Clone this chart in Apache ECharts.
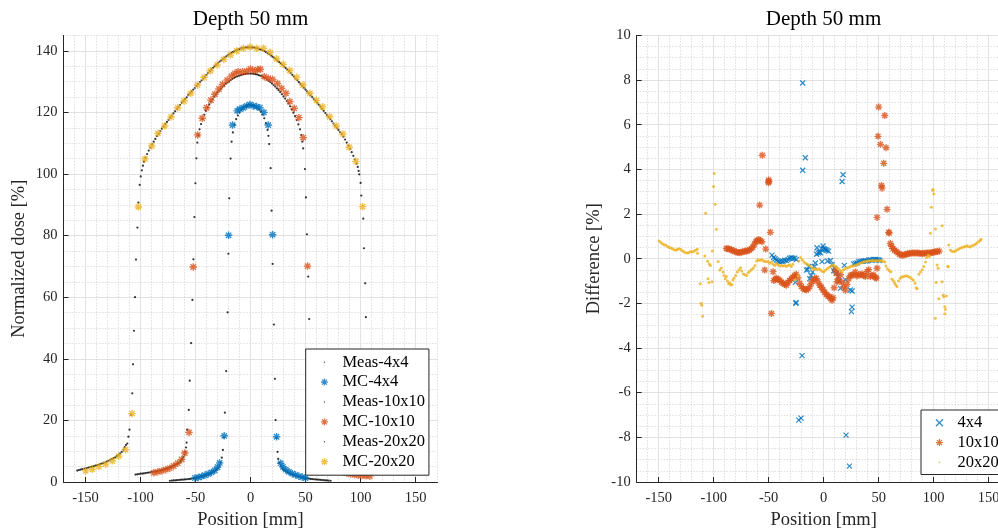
<!DOCTYPE html>
<html><head><meta charset="utf-8">
<script src="https://cdn.jsdelivr.net/npm/echarts@6/dist/echarts.min.js"></script>
<style>html,body{margin:0;padding:0;background:#fff}#c{width:998px;height:532px}</style>
</head><body><div id="c"></div>
<script>
// ---------- tick labels ----------
const xTicks = [-150, -100, -50, 0, 50, 100, 150];
const yTicksDose = [0, 20, 40, 60, 80, 100, 120, 140];
const yTicksDiff = [-10, -8, -6, -4, -2, 0, 2, 4, 6, 8, 10];
const titleText = 'Depth 50 mm';
const namesLeft = ['Meas-4x4', 'MC-4x4', 'Meas-10x10', 'MC-10x10', 'Meas-20x20', 'MC-20x20'];
const namesRight = ['4x4', '10x10', '20x20'];

// ---------- left panel: dose profiles [position mm, dose %] ----------
const meas4 = [[-73.3,0.4],[-71.5,0.45],[-70,0.5],[-68.5,0.55],[-67,0.6],[-65.5,0.65],[-64,0.7],[-62.5,0.75],[-61,0.8],[-59.5,0.85],[-58,0.9],[-56.5,0.95],[-55,1.0],[-53.5,1.1],[-52,1.2],[-50.5,1.3],[-49,1.4],[-47.5,1.5],[-46,1.6],[-44.5,1.8],[-43,1.9],[-41.5,2.1],[-40,2.3],[-38.5,2.5],[-37,2.7],[-35.5,3.0],[-34,3.3],[-32.5,3.6],[-31,4.0],[-29.5,4.5],[-28.2,5.2],[-27.1,6.3],[-26.1,7.9],[-25.1,10.4],[-24.2,14.5],[-23.3,22.5],[-22.1,36.0],[-20.8,55.1],[-20.1,74.1],[-19.3,92.1],[-18.1,105],[-17.2,110.5],[-16,113.5],[-14.5,116],[-13,117.8],[-11.5,119],[-10,120],[-8.5,120.8],[-7,121.4],[-5.5,121.8],[-4,122.1],[-2.5,122.3],[-1,122.4],[0.5,122.4],[2,122.3],[3.5,122.1],[5,121.8],[6.5,121.4],[8,120.9],[9.5,120.2],[11,119.3],[12.5,118.1],[14,116.5],[15.5,114.3],[16.3,112.4],[17,109.7],[18.3,101.9],[19.2,88.1],[20.1,70.8],[21.3,51.1],[22.2,33.5],[22.8,20.1],[23.7,14.3],[24.6,9.8],[25.2,7.5],[26.2,6.2],[27.5,5.1],[29,4.4],[30.5,3.9],[32,3.5],[33.5,3.2],[35,2.9],[36.5,2.6],[38,2.4],[39.5,2.2],[41,2.0],[42.5,1.8],[44,1.7],[45.5,1.6],[47,1.5],[48.5,1.4],[50,1.3],[51.5,1.2],[53,1.1],[54.5,1.0],[56,0.95],[57.5,0.9],[59,0.85],[60.5,0.8],[62,0.75],[63.5,0.7],[65,0.65],[66.5,0.6],[68,0.55],[69.5,0.5],[71,0.45],[72.8,0.4]];
const mc4 = [[-50.5,1.3],[-47.5,1.5],[-44.5,1.8],[-41.5,2.2],[-38.5,2.6],[-35.5,3.1],[-32.5,3.8],[-30,4.8],[-28,6.2],[-23.9,15.0],[-19.9,80.1],[-16.3,115.9],[-12.1,120.5],[-9.6,121.1],[-6.6,121.5],[-3.5,122.1],[-0.5,122.6],[2.5,122.1],[5.5,121.9],[8.5,121.5],[12.2,120.0],[16.1,115.9],[20.1,80.3],[23.7,14.7],[27.4,6.1],[29.5,4.9],[32,4.0],[35,3.3],[38,2.7],[41,2.3],[44,1.9],[47,1.6],[50,1.3]];
const meas10 = [[-104.5,2.4],[-103,2.5],[-101.5,2.6],[-100,2.7],[-98.5,2.75],[-97,2.8],[-95.5,2.9],[-94,3.0],[-92.5,3.05],[-91,3.15],[-89.5,3.25],[-88,3.35],[-86.5,3.45],[-85,3.55],[-83.5,3.7],[-82,3.8],[-80.5,3.95],[-79,4.1],[-77.5,4.25],[-76,4.4],[-74.5,4.6],[-73,4.8],[-71.5,5.0],[-70,5.25],[-68.5,5.5],[-67,5.8],[-65.5,6.15],[-64,6.6],[-63,7.0],[-62,7.5],[-61,8.1],[-60,8.9],[-59.2,9.8],[-58.6,11.2],[-58.1,12.8],[-57.6,17.0],[-56.1,23.4],[-55.2,32.9],[-54,45.1],[-52.8,59.1],[-51.9,72.3],[-51,86],[-50.1,97],[-49.2,105.1],[-48.3,110.2],[-47.3,112.6],[-46.3,114.5],[-45,116.2],[-43.5,117.8],[-42,119.2],[-40.5,120.5],[-39,121.6],[-37.5,122.6],[-36,123.5],[-34.5,124.3],[-33,125.1],[-31.5,125.8],[-30,126.5],[-28.5,127.1],[-27,127.7],[-25.5,128.3],[-24,128.8],[-22.5,129.3],[-21,129.7],[-19.5,130.1],[-18,130.5],[-16.5,130.9],[-15,131.2],[-13.5,131.5],[-12,131.7],[-10.5,131.9],[-9,132.1],[-7.5,132.3],[-6,132.4],[-4.5,132.5],[-3,132.6],[-1.5,132.6],[0,132.6],[1.5,132.6],[3,132.5],[4.5,132.4],[6,132.3],[7.5,132.1],[9,131.9],[10.5,131.7],[12,131.4],[13.5,131.1],[15,130.7],[16.5,130.3],[18,129.9],[19.5,129.4],[21,128.9],[22.5,128.4],[24,127.8],[25.5,127.2],[27,126.6],[28.5,125.9],[30,125.2],[31.5,124.5],[33,123.7],[34.5,122.9],[36,122.0],[37.5,121.0],[39,119.9],[40.5,118.8],[42,117.5],[43.5,116.1],[45,114.5],[46.2,112.6],[47.1,110.5],[47.9,108.3],[49.5,101.6],[50.4,92.4],[51.3,80.4],[52.5,66.7],[53.4,52.9],[54.3,40],[55.2,29],[56.1,21],[57.2,15],[58.3,11.5],[59.5,9.3],[61,7.8],[63,6.7],[66,5.7],[70,4.9],[75,4.2],[80,3.7],[85,3.3],[90,3.0],[95,2.8],[100,2.7],[105,2.7]];
const mc10 = [[-87.8,3.0],[-84.2,3.3],[-80.6,3.6],[-77,4.0],[-73.4,4.5],[-69.8,5.2],[-66.2,6.1],[-62.6,7.3],[-59.7,9.4],[-55.9,16.1],[-52.1,69.8],[-48,112.7],[-43.9,118.1],[-39.9,121.5],[-36,124],[-32.4,125.9],[-28.7,127.6],[-25.4,129.1],[-21.2,130.5],[-17.2,131.8],[-14.2,132.7],[-11.2,133.2],[-7.2,133.2],[-3.5,133.4],[0,134.1],[3.4,133.5],[6.5,133.9],[9,134.0],[12.5,131.6],[16.1,131.1],[20.1,130.7],[24.6,129.4],[28.3,127.8],[32.2,126.2],[35.8,123.5],[39.7,121.3],[44,118.3],[47.9,111.8],[51.9,70.1],[55.9,16],[59.7,9.4],[63,7.2],[66.5,6.0],[70,5.2],[73.5,4.5],[77,4.0],[80.5,3.6],[84,3.2],[87.5,2.9],[91,2.6],[94.5,2.4],[98,2.2],[101.5,2.1],[105,2.0],[108.5,1.9]];
const meas20 = [[-157.5,3.7],[-156,3.9],[-154.5,4.0],[-153,4.2],[-151.5,4.3],[-150,4.4],[-148.5,4.5],[-147,4.7],[-145.5,4.8],[-144,5.0],[-142.5,5.1],[-141,5.3],[-139.5,5.5],[-138,5.6],[-136.5,5.8],[-135,6.0],[-133.5,6.2],[-132,6.4],[-130.5,6.6],[-129,6.9],[-127.5,7.1],[-126,7.4],[-124.5,7.7],[-123,8.0],[-121.5,8.4],[-120,8.8],[-118.5,9.3],[-117,9.8],[-115.5,10.5],[-114.3,11.3],[-113.2,12.0],[-112,12.5],[-111,14.7],[-110,17.0],[-108.6,21.8],[-107.5,28.8],[-106.8,38.2],[-105.9,49.1],[-105,60],[-104.1,72.2],[-102.8,82.6],[-101.9,90.7],[-100.7,96.5],[-99.8,99.2],[-98.8,101.2],[-97.8,102.7],[-96.8,104],[-95.5,105.3],[-94,106.5],[-92.5,107.6],[-91,108.6],[-89.5,109.6],[-88,110.5],[-86.5,111.4],[-85,112.3],[-83.5,113.1],[-82,113.9],[-80.5,114.7],[-79,115.4],[-77.5,116.2],[-76,116.9],[-74.5,117.6],[-73,118.3],[-71.5,119],[-70,119.7],[-68.5,120.4],[-67,121.1],[-65.5,121.8],[-64,122.4],[-62.5,123.1],[-61,123.7],[-59.5,124.3],[-58,124.9],[-56.5,125.6],[-55,126.2],[-53.5,126.8],[-52,127.4],[-50.5,128],[-49,128.6],[-47.5,129.2],[-46,129.8],[-44.5,130.4],[-43,131],[-41.5,131.6],[-40,132.2],[-38.5,132.8],[-37,133.4],[-35.5,134],[-34,134.5],[-32.5,135],[-31,135.5],[-29.5,136],[-28,136.5],[-26.5,137],[-25,137.4],[-23.5,137.8],[-22,138.2],[-20.5,138.6],[-19,139],[-17.5,139.3],[-16,139.6],[-14.5,139.9],[-13,140.2],[-11.5,140.4],[-10,140.6],[-8.5,140.8],[-7,140.9],[-5.5,141],[-4,141.1],[-2.5,141.1],[-1,141.1],[0.5,141.1],[2,141.1],[3.5,141],[5,140.9],[6.5,140.8],[8,140.6],[9.5,140.4],[11,140.2],[12.5,139.9],[14,139.6],[15.5,139.3],[17,138.9],[18.5,138.5],[20,138.1],[21.5,137.7],[23,137.3],[24.5,136.8],[26,136.4],[27.5,135.9],[29,135.4],[30.5,134.9],[32,134.4],[33.5,133.9],[35,133.4],[36.5,132.8],[38,132.2],[39.5,131.6],[41,131],[42.5,130.4],[44,129.8],[45.5,129.2],[47,128.6],[48.5,128],[50,127.4],[51.5,126.8],[53,126.2],[54.5,125.6],[56,125],[57.5,124.4],[59,123.8],[60.5,123.2],[62,122.5],[63.5,121.9],[65,121.2],[66.5,120.5],[68,119.8],[69.5,119.2],[71,118.5],[72.5,117.8],[74,117.1],[75.5,116.4],[77,115.7],[78.5,115],[80,114.3],[81.5,113.6],[83,112.9],[84.5,112.1],[86,111.2],[87.5,110.2],[89,109.2],[90.5,108.2],[92,107.1],[93.5,105.9],[95,104.7],[96.5,103.4],[97.5,102.3],[98.3,101],[98.9,99.9],[100.1,97.1],[100.7,93],[102.5,85.5],[103.1,75.9],[104.3,64.5],[104.9,53.5],[105.7,42],[106.4,31],[107.2,24],[108,18],[109,14],[110.5,11.5],[112,10.6],[114,9.6],[117,8.5],[121,7.6],[125,6.9],[130,6.1],[135,5.5],[140,5.0],[145,4.5],[150,4.1],[155,3.8]];
const mc20 = [[-149.9,3.6],[-143.8,4.1],[-137.8,5.0],[-131.7,5.8],[-125.6,6.9],[-119.7,8.4],[-113.6,10.5],[-107.7,22.2],[-101.9,89.3],[-95.9,104.9],[-89.8,109.1],[-84.1,113.2],[-78,115.6],[-72.2,118.5],[-66.2,121.5],[-60.4,123.7],[-54.3,126.2],[-48.2,128.9],[-42.2,131.4],[-36.4,133.5],[-30.4,135.4],[-24.3,137.2],[-18.2,138.6],[-12.5,140.0],[-6.4,140.8],[-0.4,141.2],[5.7,140.8],[11.8,140.8],[17.8,139.5],[23.7,137.4],[29.7,135.6],[35.8,133.6],[41.9,131.4],[47.6,128.9],[54,126.2],[60,123.9],[65.5,121.8],[71.9,118.6],[77.9,115.6],[84,113.0],[89.7,108.7],[95.8,104.1],[101.9,89.4],[108,22],[114,10.4],[120,8.4],[126,6.7],[132,5.6],[138,4.9],[144,4.0],[150,3.5]];

// ---------- right panel: differences [position mm, difference %] ----------
const diff4 = [[-47,0.16],[-45.5,0.05],[-44.2,0],[-43,-0.06],[-41.5,-0.1],[-40,-0.13],[-38.5,-0.12],[-37,-0.12],[-35.5,-0.07],[-34,-0.08],[-32.5,-0.04],[-31,0.02],[-29.5,0.04],[-28,0.02],[-26.3,0.02],[-24.9,-0.04],[-25.8,-1.06],[-25.4,-2.0],[-25.1,-1.96],[-22.7,-7.23],[-20.6,-7.14],[-19.7,-4.34],[-19.1,7.87],[-19.1,3.96],[-16.7,4.52],[-15.7,-0.51],[-14.6,-0.49],[-13.5,-0.35],[-12.7,-0.9],[-11.5,-0.75],[-10,-0.6],[-8.5,-0.35],[-7.6,-0.19],[-6.5,0.2],[-6.1,0.49],[-5,0.25],[-4,0.3],[-3,0.27],[-2,0.45],[-1.5,-0.13],[-0.6,0.57],[0,0.45],[0.9,0.42],[2,0.4],[3,0.37],[3.5,-0.1],[4.5,0.34],[6.1,-0.08],[7.6,-0.27],[9.1,-0.54],[10,-0.43],[11.5,-0.65],[13,-0.8],[14,-1.0],[15.2,-1.33],[16.7,3.46],[17.6,3.76],[18.8,-0.3],[19.7,-0.95],[20.3,-7.9],[23.4,-9.29],[24.3,-1.4],[25.8,-1.45],[25.2,-2.37],[25.8,-2.17],[27.3,-0.24],[28.8,-0.21],[30.3,-0.19],[31.8,-0.13],[33.3,-0.12],[34.8,-0.11],[36.4,-0.1],[37.9,-0.09],[39.4,-0.11],[41,-0.06],[42.5,-0.05],[44,-0.08],[45.5,-0.03],[47,-0.03],[48.5,-0.04],[50,-0.06],[51,-0.08]];
const diff10 = [[-88.5,0.46],[-87,0.45],[-85.5,0.42],[-84,0.4],[-82.5,0.36],[-81,0.34],[-79.5,0.3],[-78,0.28],[-76.5,0.27],[-75,0.29],[-73.5,0.31],[-72,0.33],[-70.5,0.34],[-69,0.36],[-67.5,0.39],[-66,0.44],[-64.5,0.51],[-63,0.65],[-61.5,0.77],[-60.5,0.82],[-59,0.86],[-57.6,0.81],[-56.2,0.76],[-58.2,2.4],[-55.8,4.63],[-53.6,-0.51],[-52.7,0.43],[-50.2,3.4],[-50,3.53],[-49.8,3.46],[-48.5,1.18],[-47.5,-2.45],[-46,-0.58],[-45.4,-0.98],[-44,-0.92],[-43,-0.88],[-41.5,-0.92],[-40,-0.96],[-38.5,-1.05],[-36.9,-1.1],[-35.5,-1.15],[-33.9,-1.19],[-32.5,-1.05],[-30.9,-0.98],[-29.5,-0.9],[-27.9,-0.83],[-26.5,-0.75],[-25,-0.7],[-23.5,-0.85],[-21.8,-1.1],[-20.2,-1.25],[-18.7,-1.33],[-17.2,-1.38],[-15.7,-1.4],[-14.2,-1.35],[-12.7,-1.25],[-11.2,-1.1],[-9.7,-0.95],[-8.2,-0.9],[-6.7,-0.88],[-5.2,-1.03],[-3.6,-1.19],[-2.1,-1.28],[-0.6,-1.4],[0.9,-1.5],[2.4,-1.6],[4,-1.68],[5.5,-1.7],[6.5,-1.79],[7.6,-1.86],[8.5,-1.75],[9.5,-1.3],[10.6,-0.51],[11.5,-0.65],[12.1,-1.03],[13.6,-0.95],[15.2,-0.72],[16.6,-1.05],[18.2,-1.25],[19.7,-1.41],[21.2,-1.15],[22.8,-0.9],[24.3,-0.75],[25.8,-0.72],[27.3,-0.73],[28.8,-0.6],[30.3,-0.77],[31.8,-0.72],[33.4,-0.72],[34.8,-0.68],[36.4,-0.75],[37.9,-0.8],[39.4,-0.58],[40.9,-0.49],[42.4,-0.8],[44,-0.75],[45.4,-0.73],[47,-0.84],[47.9,-0.87],[48.5,-0.43],[48.5,1.85],[49.4,5.48],[50,6.79],[51.6,5.12],[52.5,3.28],[53.1,3.16],[54.6,4.27],[55.5,6.41],[56.7,4.97],[57.6,2.21],[59.1,1.18],[59.5,1.15],[60.6,0.68],[61.8,0.55],[63,0.45],[64.5,0.38],[66,0.32],[67.5,0.26],[69,0.2],[70.5,0.17],[72,0.16],[73.5,0.18],[75,0.2],[76.5,0.22],[78,0.24],[79.5,0.24],[81,0.25],[82.5,0.26],[84,0.26],[85.5,0.25],[87,0.24],[88.5,0.23],[90,0.23],[91.5,0.24],[93,0.25],[94.5,0.26],[96,0.26],[97.5,0.27],[99,0.28],[100.5,0.3],[102,0.31],[103.5,0.32],[105,0.34]];
const diff20 = [[-149.6,0.79],[-148,0.72],[-146.5,0.66],[-145,0.62],[-143.5,0.6],[-142,0.55],[-140.5,0.5],[-139,0.48],[-137.5,0.44],[-136,0.4],[-134.5,0.38],[-133,0.42],[-131.5,0.45],[-130,0.42],[-128.5,0.36],[-127,0.31],[-125.5,0.27],[-124,0.25],[-122.5,0.28],[-121,0.32],[-119.5,0.3],[-118,0.33],[-116.5,0.38],[-115,0.42],[-114.7,0.24],[-112.2,-1.12],[-111.5,-2.0],[-110.8,-2.08],[-110.1,-2.58],[-108.1,0.12],[-107.3,2.03],[-105.6,-0.11],[-105.2,-0.9],[-104.4,-1.07],[-104,-0.24],[-103,-0.3],[-101.6,-1.03],[-101.2,0.34],[-100.1,3.23],[-99.5,3.81],[-98.6,2.44],[-97.5,1.32],[-96,-0.13],[-94.5,-0.51],[-93,-0.42],[-91.5,-0.6],[-90.5,-0.75],[-89.5,-0.9],[-88.5,-0.8],[-87.5,-1.0],[-86.5,-1.12],[-85.5,-1.08],[-84.5,-1.18],[-83.5,-1.15],[-82.5,-0.95],[-81.5,-0.86],[-80,-0.75],[-78.5,-0.6],[-77,-0.5],[-75.5,-0.4],[-74.5,-0.55],[-73,-0.68],[-71.5,-0.72],[-70,-0.75],[-68.5,-0.62],[-67,-0.55],[-65.5,-0.48],[-64,-0.42],[-62.5,-0.3],[-61,-0.1],[-59.5,-0.05],[-58,-0.08],[-56.5,-0.04],[-55,-0.09],[-53.5,-0.12],[-52,-0.14],[-50.5,-0.13],[-49,-0.2],[-47.5,-0.15],[-46,-0.25],[-44.5,-0.3],[-43,-0.22],[-41.5,-0.28],[-40,-0.33],[-38.5,-0.3],[-37,-0.33],[-35.5,-0.3],[-34,-0.35],[-32.5,-0.3],[-31,-0.28],[-29.5,-0.35],[-28,-0.25],[-26.3,-0.95],[-23.3,-0.77],[-22.5,-0.1],[-21,0.05],[-19.5,-0.05],[-18,-0.15],[-16.5,-0.2],[-15,-0.25],[-13.5,-0.28],[-12,-0.35],[-10.5,-0.42],[-9,-0.48],[-7.5,-0.45],[-6,-0.5],[-4.5,-0.45],[-3,-0.5],[-1.5,-0.56],[0,-0.58],[1.5,-0.52],[3,-0.45],[4.5,-0.4],[6,-0.35],[7.5,-0.3],[9,-0.28],[10.5,-0.35],[12,-0.42],[13.5,-0.45],[15,-0.52],[16.5,-0.58],[18,-0.5],[19.5,-0.45],[21,-0.42],[22.5,-0.39],[24,-0.36],[25.5,-0.33],[27,-0.33],[28.5,-0.3],[30,-0.27],[31.5,-0.24],[33,-0.2],[34.5,-0.18],[36,-0.15],[37.5,-0.13],[39,-0.12],[40.5,-0.1],[42,-0.09],[43.5,-0.09],[45,-0.08],[46.5,-0.1],[48,-0.09],[49.5,-0.09],[51,-0.08],[52.5,-0.1],[54,-0.09],[55.5,-0.15],[56.5,-0.33],[58,-0.45],[59.5,-0.53],[61,-0.58],[62.1,-0.92],[63.5,-1.0],[64.5,-1.1],[65.5,-1.18],[66.7,-1.25],[68,-1.0],[69.5,-0.88],[71,-0.82],[72.5,-0.8],[74,-0.77],[75.5,-0.78],[77,-0.8],[78.5,-0.84],[80,-0.9],[81.5,-0.97],[83,-1.1],[84,-1.3],[85,-1.35],[86.5,-0.7],[88,-0.6],[89.5,-0.5],[91,-0.35],[92.5,-0.15],[93.5,0.05],[95,0.15],[96,0.1],[97,1.14],[97.9,2.3],[99.1,3.07],[99.5,3.1],[100.1,2.9],[101.5,-2.67],[101.6,1.33],[102.2,-1.07],[103.1,-0.28],[104,-0.43],[104.6,-1.79],[107.6,-1.03],[107.7,1.48],[108.6,-1.63],[109.1,-1.7],[110,-2.15],[110.1,-2.47],[110.7,-2.27],[111.5,-1.67],[112.8,-0.34],[113.1,-0.36],[113.6,0.61],[115.2,0.39],[116.5,0.33],[118.2,0.31],[119.7,0.35],[121.2,0.39],[122.7,0.43],[124.2,0.47],[125.7,0.5],[127.2,0.52],[128.7,0.55],[130.2,0.58],[131.7,0.55],[133.2,0.52],[134.7,0.58],[136.3,0.6],[137.8,0.65],[139.3,0.7],[140.8,0.76],[142.3,0.82],[143,0.87]];

// ---------- styling ----------
const FONT = '"Liberation Serif","Times New Roman",serif';
const AX = '#262626';
const C_BLUE = '#0072BD', C_ORANGE = '#D95319', C_YELLOW = '#EDB120';
const STAR = 'path://M0,-1L0,1M-1,0L1,0M-0.71,-0.71L0.71,0.71M-0.71,0.71L0.71,-0.71';
const XMARK = 'path://M-1,-1L1,1M-1,1L1,-1';
const DOT = 'path://M-1,-1M1,1M-0.16,-0.16L0.16,-0.16L0.16,0.16L-0.16,0.16Z';
const DOT2 = 'path://M-1,-1M1,1M-0.22,-0.22L0.22,-0.22L0.22,0.22L-0.22,0.22Z';
const G = [
  {left: 63.5, top: 35.4, width: 374, height: 446.6, outerBoundsMode: 'none', containLabel: false},
  {left: 636.7, top: 35.4, width: 374, height: 446.6, outerBoundsMode: 'none', containLabel: false}
];
const minorLine = {show: true, lineStyle: {color: '#cfcfcf', type: [1, 2], width: 1}};
const majorLine = {show: true, lineStyle: {color: '#e2e2e2', width: 1}};

function minorAxis(gridIndex, min, max, interval, pos) {
  return {type: 'value', gridIndex, min, max, interval, position: pos,
    axisLine: {show: false}, axisTick: {show: false}, axisLabel: {show: false},
    splitLine: minorLine, silent: true};
}
function majorAxis(gridIndex, min, max, ticks, pos, name, nameGap, margin) {
  return {type: 'value', gridIndex, min, max, position: pos,
    axisLine: {show: true, onZero: false, lineStyle: {color: AX, width: 1}},
    axisTick: {show: true, inside: true, length: 5, customValues: ticks, lineStyle: {color: AX, width: 1}},
    axisLabel: {show: true, customValues: ticks, margin, color: AX, fontFamily: FONT, fontSize: 14.5},
    splitLine: majorLine,
    name, nameLocation: 'middle', nameGap,
    nameTextStyle: {fontFamily: FONT, fontSize: 18.5, color: AX}};
}

function sc(name, data, xi, yi, symbol, size, color, bw) {
  return {type: 'scatter', name, data, xAxisIndex: xi, yAxisIndex: yi, symbol, symbolSize: size,
    itemStyle: bw ? {color, borderColor: color, borderWidth: bw} : {color},
    silent: true, animation: false, large: false, clip: true};
}

const chart = echarts.init(document.getElementById('c'), null, {renderer: 'canvas'});
chart.setOption({
  animation: false,
  backgroundColor: '#fff',
  grid: G,
  xAxis: [
    minorAxis(0, -170, 170, 10, 'top'),
    majorAxis(0, -170, 170, xTicks, 'bottom', 'Position [mm]', 25, 9),
    minorAxis(1, -170, 170, 10, 'top'),
    majorAxis(1, -170, 170, xTicks, 'bottom', 'Position [mm]', 25, 9)
  ],
  yAxis: [
    minorAxis(0, 0, 145, 5, 'right'),
    majorAxis(0, 0, 145, yTicksDose, 'left', 'Normalized dose [%]', 35, 6),
    minorAxis(1, -10, 10, 0.5, 'right'),
    majorAxis(1, -10, 10, yTicksDiff, 'left', 'Difference [%]', 33.5, 6)
  ],
  graphic: [
    {type: 'text', x: 250.5, y: 19, style: {text: titleText, font: '21px ' + FONT, fill: '#000', align: 'center', verticalAlign: 'middle', textAlign: 'center', textVerticalAlign: 'middle'}},
    {type: 'text', x: 823.5, y: 19, style: {text: titleText, font: '21px ' + FONT, fill: '#000', align: 'center', verticalAlign: 'middle', textAlign: 'center', textVerticalAlign: 'middle'}}
  ],
  legend: [
    {left: 305.7, top: 349, orient: 'vertical', padding: [4.7, 4, 5, 14.6], itemWidth: 26, itemHeight: 7, itemGap: 2.9,
     backgroundColor: '#fff', borderColor: AX, borderWidth: 1, borderRadius: 0, selectedMode: false,
     textStyle: {fontFamily: FONT, fontSize: 16.5, lineHeight: 16, color: '#000'},
     data: [
       {name: namesLeft[0], icon: DOT, itemStyle: {color: '#000', borderWidth: 0}},
       {name: namesLeft[1], icon: STAR, itemStyle: {color: C_BLUE, borderColor: C_BLUE, borderWidth: 1.3}},
       {name: namesLeft[2], icon: DOT, itemStyle: {color: '#000', borderWidth: 0}},
       {name: namesLeft[3], icon: STAR, itemStyle: {color: C_ORANGE, borderColor: C_ORANGE, borderWidth: 1.3}},
       {name: namesLeft[4], icon: DOT, itemStyle: {color: '#000', borderWidth: 0}},
       {name: namesLeft[5], icon: STAR, itemStyle: {color: C_YELLOW, borderColor: C_YELLOW, borderWidth: 1.3}}
     ]},
    {left: 921, top: 410, orient: 'vertical', padding: [4.3, 40, 3.6, 14.3], itemWidth: 26, itemHeight: 7, itemGap: 2.8,
     backgroundColor: '#fff', borderColor: AX, borderWidth: 1, borderRadius: 0, selectedMode: false,
     textStyle: {fontFamily: FONT, fontSize: 16.5, lineHeight: 16, color: '#000'},
     data: [
       {name: namesRight[0], icon: XMARK, itemStyle: {color: C_BLUE, borderColor: C_BLUE, borderWidth: 1.3}},
       {name: namesRight[1], icon: STAR, itemStyle: {color: C_ORANGE, borderColor: C_ORANGE, borderWidth: 1.3}},
       {name: namesRight[2], icon: DOT2, itemStyle: {color: C_YELLOW, borderWidth: 0}}
     ]}
  ],
  series: [
    sc(namesLeft[0], meas4, 1, 1, 'circle', 2.2, '#000'),
    sc(namesLeft[1], mc4, 1, 1, STAR, 7.5, C_BLUE, 1.4),
    sc(namesLeft[2], meas10, 1, 1, 'circle', 2.2, '#000'),
    sc(namesLeft[3], mc10, 1, 1, STAR, 7.5, C_ORANGE, 1.4),
    sc(namesLeft[4], meas20, 1, 1, 'circle', 2.2, '#000'),
    sc(namesLeft[5], mc20, 1, 1, STAR, 7.5, C_YELLOW, 1.4),
    sc(namesRight[0], diff4, 3, 3, XMARK, 5, C_BLUE, 1.3),
    sc(namesRight[1], diff10, 3, 3, STAR, 7, C_ORANGE, 1.4),
    sc(namesRight[2], diff20, 3, 3, 'circle', 3, C_YELLOW)
  ]
});
</script>
</body></html>
